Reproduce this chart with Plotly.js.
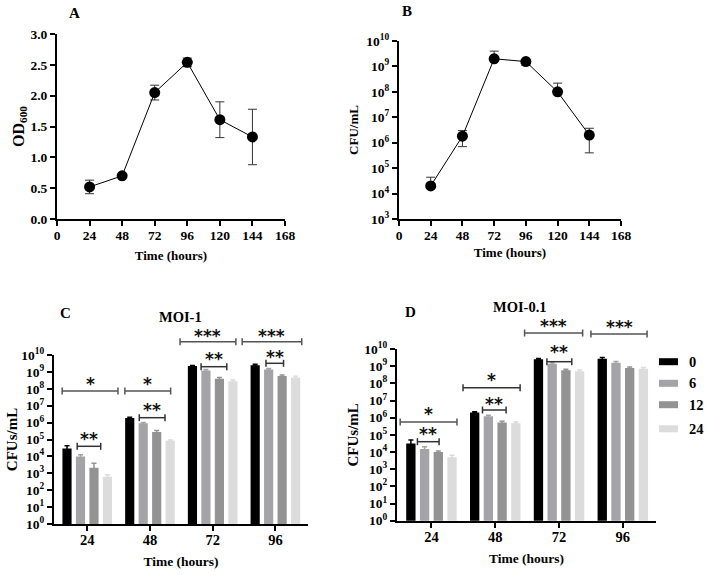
<!DOCTYPE html>
<html>
<head>
<meta charset="utf-8">
<script src="https://cdn.plot.ly/plotly-3.0.1.min.js"></script>
<style>
  html, body { margin: 0; padding: 0; background: #fff; }
  #fig { width: 708px; height: 575px; }
</style>
</head>
<body>
<div id="fig"></div>
<script>
// ---- Growth curve (panels A and B) ----
const hours = [24, 48, 72, 96, 120, 144];
const od600 = [0.52, 0.70, 2.05, 2.54, 1.61, 1.33];
const od600Err = [0.11, 0.02, 0.12, 0.07, 0.29, 0.45];
const cfuPerMl = [2.0e4, 1.8e6, 2.0e9, 1.55e9, 1.0e8, 2.0e6];
const cfuErrPlus = [2.4e4, 1.2e6, 2.0e9, 0.35e9, 1.2e8, 1.7e6];
const cfuErrMinus = [0.4e4, 1.1e6, 0.3e9, 0.45e9, 0.2e8, 1.6e6];

// ---- Infection time course (panels C and D) ----
const timeCats = ['24', '48', '72', '96'];
const seriesNames = ['0', '6', '12', '24'];
const seriesColors = ['#000000', '#a3a3a8', '#939393', '#dcdcdc'];

const moi1_0  = [2.9e4, 1.9e6, 2.2e9, 2.5e9];
const moi1_6  = [1.0e4, 9.0e5, 1.2e9, 1.4e9];
const moi1_12 = [2.1e3, 2.8e5, 4.0e8, 5.8e8];
const moi1_24 = [6.3e2, 8.5e4, 2.8e8, 4.7e8];
const moi1Err_0  = [1.4e4, 2.0e5, 2.0e8, 3.0e8];
const moi1Err_6  = [2.5e3, 1.2e5, 2.0e8, 2.0e8];
const moi1Err_12 = [1.8e3, 6.0e4, 7.0e7, 8.0e7];
const moi1Err_24 = [2.0e2, 1.0e4, 5.0e7, 8.0e7];

const moi01_0  = [3.1e4, 2.0e6, 2.5e9, 2.7e9];
const moi01_6  = [1.5e4, 1.2e6, 1.4e9, 1.6e9];
const moi01_12 = [1.0e4, 5.3e5, 5.8e8, 7.8e8];
const moi01_24 = [5.0e3, 4.8e5, 5.0e8, 7.0e8];
const moi01Err_0  = [1.9e4, 2.0e5, 3.0e8, 5.0e8];
const moi01Err_6  = [5.0e3, 2.0e5, 2.0e8, 3.0e8];
const moi01Err_12 = [1.5e3, 8.0e4, 8.0e7, 1.2e8];
const moi01Err_24 = [1.5e3, 8.0e4, 1.0e8, 1.5e8];

const hourTicks = [0, 24, 48, 72, 96, 120, 144, 168];
const decadesB = [1e3, 1e4, 1e5, 1e6, 1e7, 1e8, 1e9, 1e10];
const decadesCD = [1e0, 1e1, 1e2, 1e3, 1e4, 1e5, 1e6, 1e7, 1e8, 1e9, 1e10];
const powerLabel = v => '10<sup>' + Math.round(Math.log10(v)) + '</sup>';

// ---- page geometry helpers (pixels -> paper fractions) ----
const W = 708, H = 575;
const fx = x => x / W;
const fy = y => 1 - y / H;

const FONT = 'Liberation Serif, Times New Roman, serif';
const STAR_FONT = 'DejaVu Sans, sans-serif';

const traces = [];

// Panel A: OD600
traces.push({
  type: 'scatter', mode: 'lines+markers', x: hours, y: od600,
  xaxis: 'x', yaxis: 'y', cliponaxis: false,
  line: { color: '#000', width: 1 },
  marker: { color: '#000', size: 11 },
  error_y: { type: 'data', array: od600Err, color: '#333', thickness: 1, width: 4.5 }
});

// Panel B: CFU/mL
traces.push({
  type: 'scatter', mode: 'lines+markers', x: hours, y: cfuPerMl,
  xaxis: 'x2', yaxis: 'y2', cliponaxis: false,
  line: { color: '#000', width: 1 },
  marker: { color: '#000', size: 11 },
  error_y: { type: 'data', symmetric: false, array: cfuErrPlus, arrayminus: cfuErrMinus,
             color: '#333', thickness: 1, width: 4.5 }
});

// Panels C and D: grouped bars per time point
const moi1 = [moi1_0, moi1_6, moi1_12, moi1_24];
const moi1Err = [moi1Err_0, moi1Err_6, moi1Err_12, moi1Err_24];
const moi01 = [moi01_0, moi01_6, moi01_12, moi01_24];
const moi01Err = [moi01Err_0, moi01Err_6, moi01Err_12, moi01Err_24];

function addBars(values, errs, xa, ya) {
  values.forEach((vals, i) => {
    traces.push({
      type: 'bar', x: timeCats, y: vals, name: seriesNames[i],
      xaxis: xa, yaxis: ya, offsetgroup: String(i),
      marker: { color: seriesColors[i], line: { width: 0 } },
      error_y: { type: 'data', array: errs[i], color: seriesColors[i], thickness: 1.5, width: 2.5 }
    });
  });
}
addBars(moi1, moi1Err, 'x3', 'y3');
addBars(moi01, moi01Err, 'x4', 'y4');

const tickFont = (size) => ({ family: FONT, size: size, color: '#000', weight: 'bold' });
const titleFont = (size) => ({ family: FONT, size: size, color: '#000', weight: 'bold' });

const baseAxis = {
  showline: true, linecolor: '#000', linewidth: 2,
  ticks: 'outside', ticklen: 5, tickwidth: 2, tickcolor: '#000',
  showgrid: false, zeroline: false, fixedrange: true
};

const layout = {
  width: W, height: H,
  margin: { l: 0, r: 0, t: 0, b: 0 },
  paper_bgcolor: '#fff', plot_bgcolor: 'rgba(0,0,0,0)',
  showlegend: false,
  barmode: 'group', bargap: 0.14, bargroupgap: 0.32,
  font: { family: FONT, color: '#000' },

  xaxis: Object.assign({}, baseAxis, {
    domain: [fx(57), fx(285)], anchor: 'y', range: [0, 168],
    tickvals: hourTicks, tickfont: tickFont(13.5), ticklabelstandoff: -2,
    title: { text: 'Time (hours)', font: titleFont(13), standoff: 9 }
  }),
  yaxis: Object.assign({}, baseAxis, {
    domain: [fy(219), fy(34)], anchor: 'x', range: [0, 3],
    dtick: 0.5, tickformat: '.1f', tickfont: tickFont(13.5),
    title: { text: 'OD<sub>600</sub>', font: titleFont(16), standoff: 2 }
  }),

  xaxis2: Object.assign({}, baseAxis, {
    domain: [fx(399), fx(621)], anchor: 'y2', range: [0, 168],
    tickvals: hourTicks, tickfont: tickFont(13.5), ticklabelstandoff: -2,
    title: { text: 'Time (hours)', font: titleFont(13), standoff: 6 }
  }),
  yaxis2: Object.assign({}, baseAxis, {
    domain: [fy(219), fy(41)], anchor: 'x2', type: 'log', range: [3, 10],
    tickvals: decadesB, ticktext: decadesB.map(powerLabel), tickfont: tickFont(13.5),
    title: { text: 'CFU/mL', font: titleFont(13), standoff: 5 }
  }),

  xaxis3: Object.assign({}, baseAxis, {
    domain: [fx(54), fx(308)], anchor: 'y3', type: 'category', range: [-0.53, 3.52],
    tickfont: tickFont(14.5), ticklabelstandoff: -3,
    title: { text: 'Time (hours)', font: titleFont(13.5), standoff: 9 }
  }),
  yaxis3: Object.assign({}, baseAxis, {
    domain: [fy(524), fy(355)], anchor: 'x3', type: 'log', range: [0, 10],
    tickvals: decadesCD, ticktext: decadesCD.map(powerLabel), tickfont: tickFont(13.5),
    title: { text: 'CFUs/mL', font: titleFont(15), standoff: 0 }
  }),

  xaxis4: Object.assign({}, baseAxis, {
    domain: [fx(397), fx(656)], anchor: 'y4', type: 'category', range: [-0.54, 3.52],
    tickfont: tickFont(14.5), ticklabelstandoff: -3,
    title: { text: 'Time (hours)', font: titleFont(13.5), standoff: 9 }
  }),
  yaxis4: Object.assign({}, baseAxis, {
    domain: [fy(520.7), fy(349)], anchor: 'x4', type: 'log', range: [0, 10],
    tickvals: decadesCD, ticktext: decadesCD.map(powerLabel), tickfont: tickFont(13.5),
    title: { text: 'CFUs/mL', font: titleFont(15), standoff: 2 }
  }),

  shapes: [],
  annotations: []
};

// Panel letters and titles
const labels = [
  { text: 'A', x: 74, y: 13, size: 15 },
  { text: 'B', x: 407, y: 11, size: 15 },
  { text: 'C', x: 65, y: 313, size: 15 },
  { text: 'D', x: 410, y: 312, size: 15 },
  { text: 'MOI-1', x: 180, y: 317, size: 14.5 },
  { text: 'MOI-0.1', x: 520, y: 307, size: 14.5 }
];
labels.forEach(l => layout.annotations.push({
  text: l.text, xref: 'paper', yref: 'paper', x: fx(l.x), y: fy(l.y),
  xanchor: 'center', yanchor: 'middle', showarrow: false,
  font: { family: FONT, size: l.size, color: '#000', weight: 'bold' }
}));

// Significance brackets: [xaxis, x0, x1, bracket y(px), star y(px), stars, colour]
const brackets = [
  ['x3', -0.40, 0.49, 391, 380, '*', '#555'],
  ['x3', 0.60, 1.33, 391, 380, '*', '#555'],
  ['x3', -0.16, 0.215, 446.3, 435, '**', '#333'],
  ['x3', 0.83, 1.24, 417.7, 406, '**', '#333'],
  ['x3', 1.48, 2.37, 341.7, 332, '***', '#555'],
  ['x3', 2.47, 3.42, 341.7, 332, '***', '#555'],
  ['x3', 1.815, 2.225, 366.7, 355.3, '**', '#333'],
  ['x3', 2.85, 3.13, 363.3, 353.3, '**', '#333'],
  ['x4', -0.49, 0.40, 422, 410, '*', '#555'],
  ['x4', -0.22, 0.12, 441.7, 430, '**', '#333'],
  ['x4', 0.495, 1.39, 387.7, 376, '*', '#333'],
  ['x4', 0.80, 1.17, 410, 400, '**', '#333'],
  ['x4', 1.46, 2.37, 333, 322, '***', '#555'],
  ['x4', 2.50, 3.38, 334, 323, '***', '#555'],
  ['x4', 1.81, 2.20, 361.7, 348.5, '**', '#333']
];
const tickHalf = 3.5 / H;
brackets.forEach(([xa, x0, x1, yb, ys, stars, col]) => {
  const yp = fy(yb);
  const line = { color: col, width: 1.5 };
  layout.shapes.push({ type: 'line', xref: xa, yref: 'paper', x0: x0, x1: x1, y0: yp, y1: yp, line });
  layout.shapes.push({ type: 'line', xref: xa, yref: 'paper', x0: x0, x1: x0, y0: yp - tickHalf, y1: yp + tickHalf, line });
  layout.shapes.push({ type: 'line', xref: xa, yref: 'paper', x0: x1, x1: x1, y0: yp - tickHalf, y1: yp + tickHalf, line });
  layout.annotations.push({
    text: stars, xref: xa, yref: 'paper', x: (x0 + x1) / 2, y: fy(ys + 3.5),
    xanchor: 'center', yanchor: 'middle', showarrow: false,
    font: { family: STAR_FONT, size: 17, color: '#111', weight: 'bold' }
  });
});

// Legend for panel D (hours post treatment)
const legendRows = [361.7, 383.3, 404.7, 428.8];
seriesNames.forEach((name, i) => {
  const yc = legendRows[i];
  layout.shapes.push({
    type: 'rect', xref: 'paper', yref: 'paper',
    x0: fx(659), x1: fx(678), y0: fy(yc + 3.5), y1: fy(yc - 3.5),
    fillcolor: seriesColors[i], line: { width: 0 }
  });
  layout.annotations.push({
    text: name, xref: 'paper', yref: 'paper', x: fx(687), y: fy(yc),
    xanchor: 'left', yanchor: 'middle', showarrow: false,
    font: { family: FONT, size: 14.5, color: '#000', weight: 'bold' }
  });
});

Plotly.newPlot('fig', traces, layout, { displayModeBar: false, staticPlot: true });
</script>
</body>
</html>
